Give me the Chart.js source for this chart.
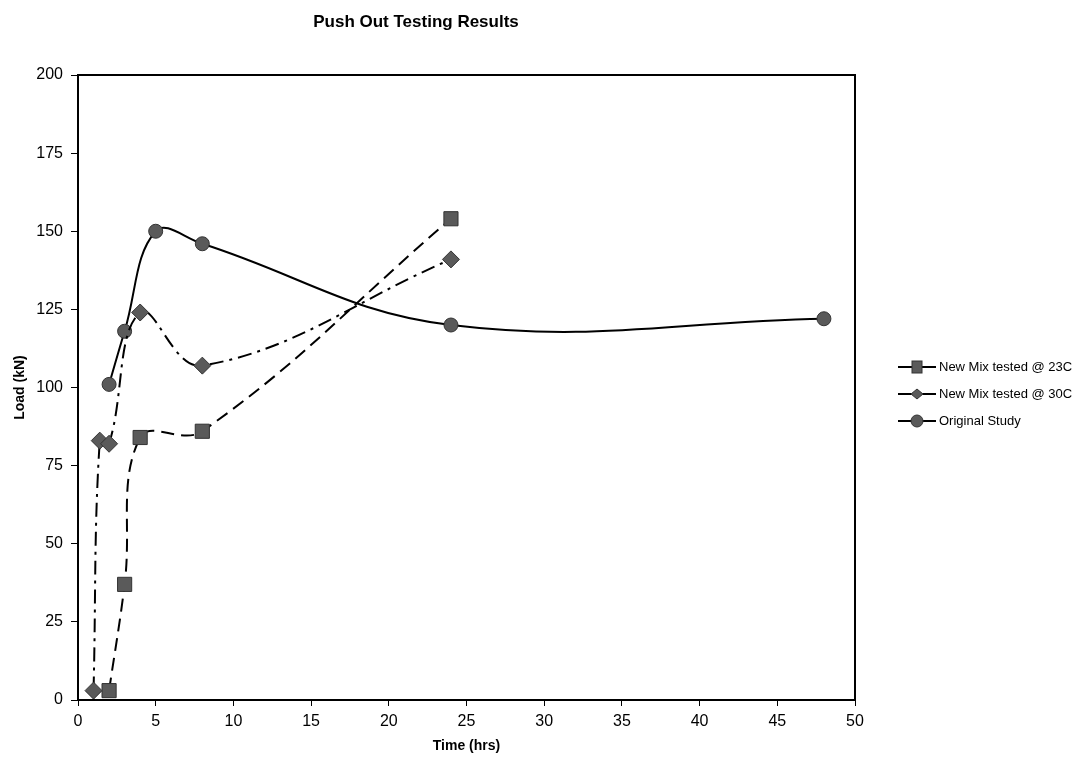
<!DOCTYPE html>
<html>
<head>
<meta charset="utf-8">
<script src="https://cdn.jsdelivr.net/npm/chart.js@4/dist/chart.umd.min.js"></script>
<style>
  html, body { margin: 0; padding: 0; background: #fff; }
  #c { display: block; }
</style>
</head>
<body>
<canvas id="c" width="1075" height="758"></canvas>
<script>
// ---- Data ----
const chartTitle = "Push Out Testing Results";
const xTitle = "Time (hrs)";
const yTitle = "Load (kN)";

const seriesNames = ["New Mix tested @ 23C", "New Mix tested @ 30C", "Original Study"];

const mix23Times = [2, 3, 4, 8, 24];
const mix23Loads = [3, 37, 84, 86, 154];

const mix30Times = [1, 1.4, 2, 4, 8, 24];
const mix30Loads = [3, 83, 82, 124, 107, 141];

const origTimes = [2, 3, 5, 8, 24, 48];
const origLoads = [101, 118, 150, 146, 120, 122];

const xTicks = [0, 5, 10, 15, 20, 25, 30, 35, 40, 45, 50];
const yTicks = [0, 25, 50, 75, 100, 125, 150, 175, 200];

const toPts = (xs, ys) => xs.map((x, i) => ({ x: x, y: ys[i] }));

const FONT = "'Liberation Sans', Arial, sans-serif";
const markerFill = "#5a5a5a";

// Frame + title + legend drawn through a plugin
const decor = {
  id: 'decor',
  afterDraw(chart) {
    const { ctx, chartArea: a } = chart;
    ctx.save();
    // frame
    ctx.strokeStyle = '#000';
    ctx.lineWidth = 2;
    ctx.strokeRect(a.left, a.top, a.right - a.left, a.bottom - a.top);
    // title
    ctx.fillStyle = '#000';
    ctx.font = "bold 17px " + FONT;
    ctx.textAlign = 'center';
    ctx.textBaseline = 'middle';
    ctx.fillText(chartTitle, 416, 22);
    // legend
    const lx = 898, ly = 367, gap = 27;
    chart.data.datasets.forEach((ds, i) => {
      const y = ly + i * gap;
      ctx.setLineDash([]);
      ctx.strokeStyle = '#000';
      ctx.lineWidth = 2;
      ctx.beginPath();
      ctx.moveTo(lx, y);
      ctx.lineTo(lx + 38, y);
      ctx.stroke();
      ctx.fillStyle = markerFill;
      ctx.strokeStyle = '#333';
      ctx.lineWidth = 1;
      const cx = lx + 19;
      if (ds.pointStyle === 'rect') {
        ctx.fillRect(cx - 5, y - 6, 10, 12);
        ctx.strokeRect(cx - 5, y - 6, 10, 12);
      } else if (ds.pointStyle === 'rectRot') {
        ctx.beginPath();
        ctx.moveTo(cx, y - 5); ctx.lineTo(cx + 6, y); ctx.lineTo(cx, y + 5); ctx.lineTo(cx - 6, y);
        ctx.closePath(); ctx.fill(); ctx.stroke();
      } else {
        ctx.beginPath(); ctx.arc(cx, y, 6, 0, Math.PI * 2); ctx.fill(); ctx.stroke();
      }
      ctx.fillStyle = '#000';
      ctx.font = "13px " + FONT;
      ctx.textAlign = 'left';
      ctx.fillText(ds.label, lx + 41, y);
    });
    ctx.restore();
  }
};

new Chart(document.getElementById('c'), {
  type: 'scatter',
  data: {
    datasets: [
      {
        label: seriesNames[0],
        data: toPts(mix23Times, mix23Loads),
        showLine: true,
        borderColor: '#000',
        borderWidth: 2,
        borderDash: [13, 7],
        tension: 0.4,
        pointStyle: 'rect',
        pointRadius: 10,
        pointBackgroundColor: markerFill,
        pointBorderColor: '#333',
        pointBorderWidth: 1
      },
      {
        label: seriesNames[1],
        data: toPts(mix30Times, mix30Loads),
        showLine: true,
        borderColor: '#000',
        borderWidth: 2,
        borderDash: [14, 6, 3, 6],
        tension: 0.4,
        pointStyle: 'rectRot',
        pointRadius: 8.5,
        pointBackgroundColor: markerFill,
        pointBorderColor: '#333',
        pointBorderWidth: 1
      },
      {
        label: seriesNames[2],
        data: toPts(origTimes, origLoads),
        showLine: true,
        borderColor: '#000',
        borderWidth: 2,
        tension: 0.4,
        pointStyle: 'circle',
        pointRadius: 7,
        pointBackgroundColor: markerFill,
        pointBorderColor: '#333',
        pointBorderWidth: 1
      }
    ]
  },
  options: {
    responsive: false,
    animation: false,
    devicePixelRatio: 1,
    layout: { padding: { top: 75, right: 220, left: 0, bottom: 0 } },
    plugins: {
      legend: { display: false },
      title: { display: false },
      tooltip: { enabled: false }
    },
    scales: {
      x: {
        type: 'linear',
        min: 0, max: 50,
        afterBuildTicks: (s) => { s.ticks = xTicks.map(v => ({ value: v })); },
        afterFit: (s) => { s.height = 58; },
        grid: { drawOnChartArea: false, drawTicks: true, tickLength: 6, color: '#000' },
        border: { display: true, color: '#000', width: 2 },
        ticks: { color: '#000', font: { family: FONT, size: 16 }, padding: 6 },
        title: { display: true, text: xTitle, color: '#000', font: { family: FONT, size: 14, weight: 'bold' }, padding: { top: 2, bottom: 3 } }
      },
      y: {
        type: 'linear',
        min: 0, max: 200,
        afterBuildTicks: (s) => { s.ticks = yTicks.map(v => ({ value: v })); },
        afterFit: (s) => { s.width = 78; },
        grid: { drawOnChartArea: false, drawTicks: true, tickLength: 7, color: '#000' },
        border: { display: true, color: '#000', width: 2 },
        ticks: { color: '#000', font: { family: FONT, size: 16 }, padding: 8 },
        title: { display: true, text: yTitle, color: '#000', font: { family: FONT, size: 14, weight: 'bold' }, padding: { top: 12, bottom: 4 } }
      }
    }
  },
  plugins: [decor]
});
</script>
</body>
</html>
